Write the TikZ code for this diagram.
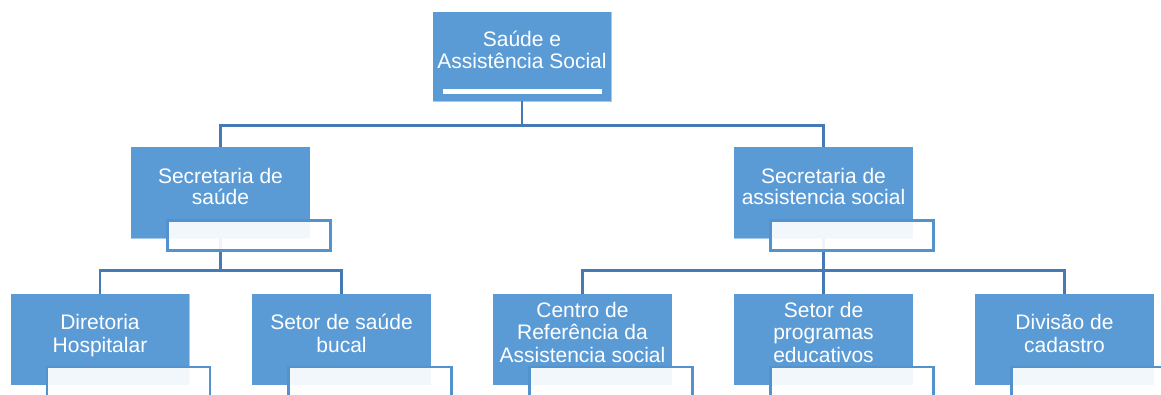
\documentclass[tikz,border=0pt]{standalone}
\usepackage{fontspec}
\setmainfont{Liberation Sans}
\definecolor{boxblue}{RGB}{91,155,213}
\definecolor{boxedge}{RGB}{170,200,232}
\definecolor{lineblue}{RGB}{70,122,180}
\definecolor{frameblue}{RGB}{84,146,206}
\tikzset{
  bluebox/.style={rectangle, fill=boxblue, draw=boxedge, line width=0.8pt, minimum width=178pt, minimum height=90pt, inner sep=0pt},
  titlebox/.style={rectangle, draw=frameblue, line width=2.5pt, fill=white, fill opacity=0.92, minimum width=163pt, minimum height=30pt, inner sep=0pt, anchor=north west},
  conn/.style={draw=lineblue, line width=2.8pt},
  txt/.style={text=white, align=center, inner sep=0pt, anchor=base, font=\fontsize{21}{22.5}\selectfont},
  txtb/.style={txt, font=\fontsize{21}{21}\selectfont},
  barbox/.style={rectangle, fill=white, minimum width=159pt, minimum height=5pt, inner sep=0pt}
}
\begin{document}
\begin{tikzpicture}[x=1pt,y=-1pt]
\useasboundingbox (0,0) rectangle (1161,394);
% blue boxes
\node[bluebox, minimum height=89pt] (top) at (522,56.5) {};
\node[bluebox, minimum height=91pt] (s1) at (220.5,192.5) {};
\node[bluebox, minimum height=91pt] (s2) at (823.5,192.5) {};
\node[bluebox] (b1) at (100,339.5) {};
\node[bluebox] (b2) at (341.5,339.5) {};
\node[bluebox] (b3) at (582.5,339.5) {};
\node[bluebox] (b4) at (823.5,339.5) {};
\node[bluebox] (b5) at (1064.5,339.5) {};
% connectors
\draw[conn] (top.south) -- ++(0,24) -| (s1.north);
\draw[conn] (top.south) -- ++(0,24) -| (s2.north);
\draw[conn] (s1.south) -- ++(0,32) -| (b1.north);
\draw[conn] (s1.south) -- ++(0,32) -| (b2.north);
\draw[conn] (s2.south) -- ++(0,32) -| (b3.north);
\draw[conn] (s2.south) -- ++(0,32) -| (b4.north);
\draw[conn] (s2.south) -- ++(0,32) -| (b5.north);
% redraw boxes over connector ends
\foreach \n in {top,s1,s2,b1,b2,b3,b4,b5}{
  \fill[boxblue] (\n.south west) rectangle (\n.north east);
}
% title boxes
\node[titlebox] (w1) at ([shift={(35,-19)}]s1.south west) {};
\node[titlebox] (w2) at ([shift={(35,-19)}]s2.south west) {};
\node[titlebox] (w3) at ([shift={(35,-19)}]b1.south west) {};
\node[titlebox] (w4) at ([shift={(35,-19)}]b2.south west) {};
\node[titlebox] (w5) at ([shift={(35,-19)}]b3.south west) {};
\node[titlebox] (w6) at ([shift={(35,-19)}]b4.south west) {};
\node[titlebox] (w7) at ([shift={(35,-19)}]b5.south west) {};
\node[barbox] (bar0) at (522.5,91.5) {};
% texts (base anchor = baseline of last line)
\node[txt] (t0) at (522,68.5) {Saúde e\\Assistência Social};
\node[txtb] (t1) at (220.5,204.3) {Secretaria de\\saúde};
\node[txtb] (t2) at (823.5,204.3) {Secretaria de\\assistencia social};
\node[txt] (t3) at (100,352) {Diretoria\\Hospitalar};
\node[txt] (t4) at (341.5,352) {Setor de saúde\\bucal};
\node[txt] (t5) at (582.5,362) {Centro de\\Referência da\\Assistencia social};
\node[txt] (t6) at (823.5,362) {Setor de\\programas\\educativos};
\node[txt] (t7) at (1064.5,352) {Divisão de\\cadastro};
\end{tikzpicture}
\end{document}
